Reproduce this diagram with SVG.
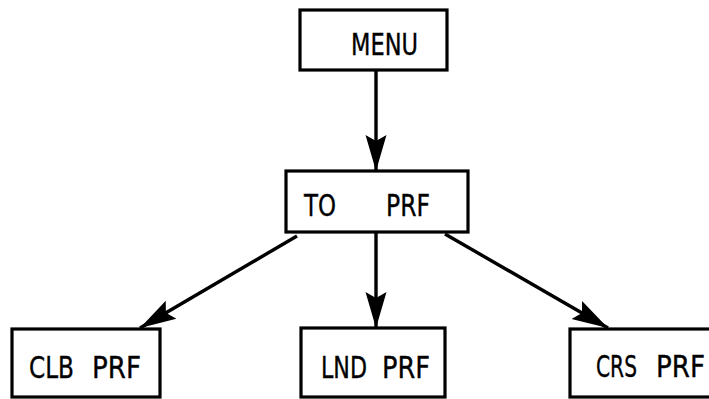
<svg xmlns="http://www.w3.org/2000/svg" width="709" height="399" viewBox="0 0 709 399">
  <style>
    .box { fill: #fff; stroke: #000; stroke-width: 3.2; }
    .lbl { font-family: "DejaVu Sans Condensed", "DejaVu Sans", sans-serif; font-size: 30px; fill: #000; stroke: #000; stroke-width: 0.35; }
    .edge { stroke: #000; stroke-width: 3.4; fill: none; marker-end: url(#head); }
  </style>
  <defs>
    <marker id="head" markerUnits="userSpaceOnUse" markerWidth="40" markerHeight="26" refX="36" refY="13" orient="auto">
      <path d="M0,2.5 L36,13 L0,23.5 L6,13 Z" fill="#000"/>
    </marker>
  </defs>
  <rect width="709" height="399" fill="#fff"/>

  <g id="connectors">
    <line class="edge" x1="376" y1="70" x2="376" y2="171"/>
    <line class="edge" x1="297" y1="236" x2="140" y2="328"/>
    <line class="edge" x1="376" y1="232" x2="376" y2="328"/>
    <line class="edge" x1="445" y1="234" x2="608" y2="328"/>
  </g>

  <g id="menu">
    <rect class="box" x="300" y="10" width="147" height="60"/>
    <text class="lbl" x="351" y="55" textLength="67" lengthAdjust="spacingAndGlyphs">MENU</text>
  </g>

  <g id="to-prf">
    <rect class="box" x="286" y="171" width="182" height="61"/>
    <text class="lbl" x="304" y="216" textLength="32" lengthAdjust="spacingAndGlyphs">TO</text>
    <text class="lbl" x="386" y="216" textLength="44" lengthAdjust="spacingAndGlyphs">PRF</text>
  </g>

  <g id="clb-prf">
    <rect class="box" x="12" y="329" width="148" height="68"/>
    <text class="lbl" x="29" y="378" textLength="45" lengthAdjust="spacingAndGlyphs">CLB</text>
    <text class="lbl" x="92" y="378" textLength="49" lengthAdjust="spacingAndGlyphs">PRF</text>
  </g>

  <g id="lnd-prf">
    <rect class="box" x="301" y="328" width="144" height="69"/>
    <text class="lbl" x="321" y="378" textLength="46" lengthAdjust="spacingAndGlyphs">LND</text>
    <text class="lbl" x="382" y="378" textLength="48" lengthAdjust="spacingAndGlyphs">PRF</text>
  </g>

  <g id="crs-prf">
    <rect class="box" x="570" y="329" width="150" height="68"/>
    <text class="lbl" x="596" y="377" textLength="41" lengthAdjust="spacingAndGlyphs">CRS</text>
    <text class="lbl" x="656" y="377" textLength="49" lengthAdjust="spacingAndGlyphs">PRF</text>
  </g>
</svg>
